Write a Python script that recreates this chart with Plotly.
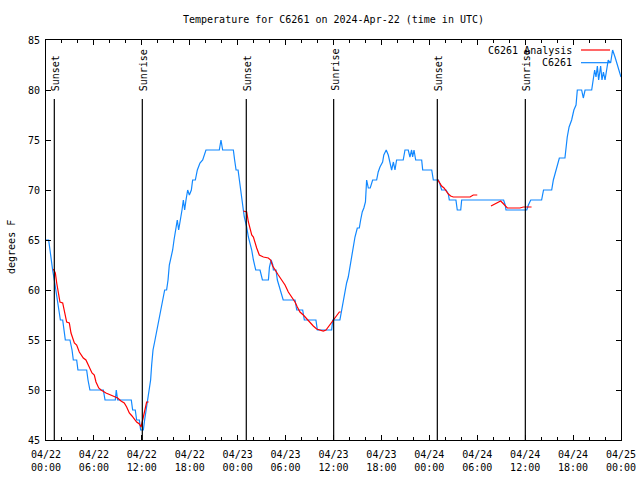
import pandas as pd
import plotly.graph_objects as go

# ---- data (hours since 2024-04-22 00:00 UTC, temperature in F) ----
start = pd.Timestamp("2024-04-22 00:00")

obs_hours = [0.0, 0.33, 0.5, 0.63, 0.83, 1.04, 1.25, 1.46, 1.67, 1.8, 2.09, 2.3, 2.42, 3.0, 3.26, 3.42,
             3.84, 4.0, 5.09, 5.26, 5.5, 7.18, 7.39, 8.68, 8.8, 8.97, 10.68, 10.85, 11.18, 11.35, 11.69,
             11.85, 12.19, 12.35, 12.52, 12.73, 12.94, 13.1, 13.23, 13.4, 13.65, 13.9, 14.19, 14.44,
             14.65, 14.86, 15.1, 15.28, 15.44, 15.6, 15.86, 16.03, 16.28, 16.44, 16.61, 16.86, 17.03,
             17.2, 17.36, 17.53, 17.74, 17.95, 18.2, 18.36, 18.7, 18.95, 19.28, 19.62, 20.03, 21.7,
             21.91, 22.12, 23.46, 23.62, 23.8, 24.05, 24.2, 24.33, 24.54, 24.71, 24.83, 24.95, 25.13,
             25.34, 25.55, 25.76, 25.97, 26.26, 26.8, 27.1, 27.85, 27.98, 28.19, 28.4, 28.47, 28.8,
             28.97, 29.22, 29.5, 29.7, 31.18, 31.4, 32.14, 32.35, 33.8, 33.98, 35.77, 35.9, 36.8,
             37.02, 37.23, 37.43, 37.64, 37.85, 38.06, 38.27, 38.48, 38.69, 38.98, 39.23, 39.4, 39.6,
             39.8, 40.0, 40.15, 40.36, 40.6, 40.9, 41.4, 41.6, 41.82, 42.15, 42.3, 42.6, 42.86, 43.07,
             43.28, 43.5, 43.7, 43.9, 44.73, 44.95, 45.36, 45.57, 45.78, 45.91, 46.08, 46.29, 47.04,
             47.17, 48.3, 48.5, 49.13, 49.33, 49.54, 50.09, 50.38, 50.5, 51.33, 51.5, 51.93, 52.05,
             57.3, 57.5, 57.6, 60.2, 60.4, 60.7, 62.06, 62.3, 63.32, 63.53, 63.86, 64.28, 64.98, 65.1,
             65.27, 65.5, 65.82, 66.1, 66.37, 66.53, 67.07, 67.28, 67.5, 68.33, 68.54, 68.7, 68.87,
             69.04, 69.2, 69.45, 69.62, 69.8, 70.0, 70.2, 70.4, 70.7, 70.95, 71.25, 71.46, 71.67,
             71.88, 72.0]
obs_temp = [65, 65, 64, 63, 62, 61, 60, 59, 58, 57, 57, 56, 55, 55, 54, 53,
            53, 52, 52, 51, 50, 50, 49, 49, 50, 49, 49, 48, 48, 47, 47,
            46, 46, 47, 48, 49, 50, 51, 52.5, 54, 55, 56, 57, 58,
            59, 60, 60, 61, 62.5, 63, 64, 65, 66, 67, 66, 67, 68,
            69, 68, 69, 70, 69.5, 70, 71, 71, 72, 72.7, 73, 74, 74,
            75, 74, 74, 73, 72, 72, 71, 70, 69, 68, 67.3, 67, 66.3,
            65.3, 64.7, 64, 63, 62, 62, 61, 61, 62.3, 63, 62.5, 62, 62,
            61, 60.3, 59.7, 59, 59, 58, 58, 57, 57, 56, 56, 57, 57,
            58, 59, 59.8, 60.7, 61.3, 62.3, 63.3, 64.3, 65.3, 66.2, 66.2, 67, 67.8,
            68.2, 68.8, 71, 70.2, 70.2, 71, 71, 71.8, 72.3, 72.8, 73.5, 74, 73.5, 72.7,
            72, 72.8, 72, 73, 73, 74, 74, 73.3, 74, 73.3, 74, 73, 73,
            72, 72, 71, 71, 70.6, 70, 70, 69.6, 69, 69, 68, 68, 69,
            69, 68.5, 68, 68, 68.5, 69, 69, 70, 70, 71, 72, 73.2, 73.2, 74.3,
            75.3, 76.3, 77, 78, 78.5, 80, 80, 79.2, 80, 80, 81, 82, 81.3,
            82.4, 81, 82.4, 81, 81.8, 81, 82.3, 83, 82.7, 84, 83.3, 82.7, 82.3,
            81.7, 81.3]

# analysis series (None separates the nightly segments)
ana_hours = [0.92, 1.17, 1.34, 1.59, 1.75, 2.09, 2.3, 2.59, 2.92, 3.13, 3.55, 3.84, 4.17, 4.67, 5.0,
             5.43, 5.76, 6.05, 6.26, 6.6, 6.89, 7.51, 8.14, 8.56, 8.97, 9.39, 9.8, 10.1, 10.43, 10.77,
             11.06, 11.35, 11.69, 11.9, 12.19, 12.4, 12.6, 12.85, None,
             24.71, 25.13, 25.34, 25.55, 25.76, 25.97, 26.17, 26.38, 26.71, 27.22, 27.84, 28.13, 28.38,
             28.67, 29.09, 29.51, 29.93, 30.34, 30.76, 31.18, 31.47, 31.8, 32.22, 32.64, 33.05, 33.47,
             33.89, 34.3, 34.72, 35.06, 35.35, 35.64, 35.98, 36.4, 36.73, 36.9, None,
             49.0, 49.25, 49.54, 49.84, 50.09, 50.38, 50.67, 51.0, 52.05, 53.1, 53.5, 54.0, None,
             55.72, 56.0, 56.35, 56.64, 56.93, 57.18, 57.47, 57.77, 59.35, 59.77, 60.8]
ana_temp = [62.1, 61.7, 60.7, 59.7, 58.8, 58.7, 58, 56.8, 56.7, 55.7, 54.7, 54.5, 53.8, 53.2, 53,
            52.3, 51.7, 51.5, 50.8, 50.2, 50, 49.7, 49.5, 49.3, 49.2, 48.9, 48.7, 48.3, 47.7, 47.4,
            47.1, 46.8, 46.6, 46.3, 47.3, 48, 48.8, 48.8, None,
            67.9, 67.8, 66.8, 66, 65.5, 65.3, 64.7, 64.2, 63.5, 63.3, 63.2, 63, 62.4,
            62, 61.5, 61, 60.5, 59.8, 59.3, 58.8, 58.3, 57.8, 57.5, 57.1, 56.7, 56.4,
            56.1, 56, 55.9, 56, 56.3, 56.6, 57, 57.4, 57.8, 57.8, None,
            71.1, 70.8, 70.4, 70.2, 69.9, 69.6, 69.4, 69.3, 69.3, 69.3, 69.5, 69.5, None,
            68.4, 68.5, 68.7, 68.8, 68.9, 68.7, 68.4, 68.2, 68.2, 68.3, 68.3]

sun_hours = [1.04, 12.06, 25.08, 36.02, 49.0, 60.02]
sun_labels = ["Sunset", "Sunrise", "Sunset", "Sunrise", "Sunset", "Sunrise"]

series_names = ["C6261 Analysis", "C6261"]
series_colors = ["#ff0000", "#1188ff"]

title_text = "Temperature for C6261 on 2024-Apr-22 (time in UTC)"
y_label = "degrees F"


def to_time(hours):
    return [None if h is None else start + pd.Timedelta(hours=h) for h in hours]


FONT = "DejaVu Sans Mono"
W, H = 640, 480
fig = go.Figure()

fig.add_trace(go.Scatter(x=to_time(obs_hours), y=obs_temp, mode="lines",
                         line=dict(color=series_colors[1], width=1.2),
                         name=series_names[1], showlegend=False))
fig.add_trace(go.Scatter(x=to_time(ana_hours), y=ana_temp, mode="lines",
                         line=dict(color=series_colors[0], width=1.2),
                         connectgaps=False, name=series_names[0], showlegend=False))

# sunrise / sunset markers
for t, lab in zip(to_time(sun_hours), sun_labels):
    fig.add_shape(type="line", xref="x", yref="y", x0=t, x1=t, y0=45, y1=79.1,
                  line=dict(color="black", width=1.2), layer="above")
    fig.add_annotation(x=t, y=79.7, xref="x", yref="y", text=lab, textangle=-90,
                       showarrow=False, xanchor="center", yanchor="bottom",
                       xshift=1, font=dict(family=FONT, size=10, color="black"))

# gnuplot-style legend (text right, sample line at right)
leg_y = [0.975, 0.9433]
for name, col, yy in zip(series_names, series_colors, leg_y):
    fig.add_annotation(x=0.9183, y=yy, xref="paper", yref="paper", text=name,
                       showarrow=False, xanchor="right", yanchor="middle",
                       font=dict(family=FONT, size=10, color="black"))
    fig.add_shape(type="line", xref="paper", yref="paper", x0=0.9304, x1=0.9809,
                  y0=yy, y1=yy, line=dict(color=col, width=1.2))

# y-axis label
fig.add_annotation(x=-0.0609, y=0.4825, xref="paper", yref="paper", text=y_label,
                   textangle=-90, showarrow=False, xanchor="center", yanchor="middle",
                   font=dict(family=FONT, size=10, color="black"))

fig.update_layout(
    width=W, height=H,
    margin=dict(l=46, r=19, t=40, b=40, pad=0, autoexpand=False),
    paper_bgcolor="white", plot_bgcolor="white",
    font=dict(family=FONT, size=10, color="black"),
    title=dict(text=title_text, x=0.5, xref="paper", y=1 - 19 / H, yref="container",
               xanchor="center", yanchor="middle", font=dict(family=FONT, size=10)),
    showlegend=False,
)
fig.update_xaxes(type="date", range=[start, start + pd.Timedelta(hours=72)],
                 tick0=start, dtick=6 * 3600 * 1000, tickformat="%m/%d<br>%H:%M",
                 ticks="inside", ticklen=5, tickcolor="black", ticklabelstandoff=5,
                 minor=dict(dtick=2 * 3600 * 1000, tick0=start, ticks="inside", ticklen=3,
                            tickcolor="black", showgrid=False),
                 showline=True, linecolor="black", linewidth=1, mirror="allticks",
                 showgrid=False, zeroline=False)
fig.update_yaxes(range=[45, 85], dtick=5, ticks="inside", ticklen=5, tickcolor="black",
                 ticklabelstandoff=3,
                 showline=True, linecolor="black", linewidth=1, mirror="allticks",
                 showgrid=False, zeroline=False)

# remove the browser's default 8px body margin so the figure sits at the page origin
fig.write_html("out.html", config={"displayModeBar": False, "staticPlot": True},
               post_script="document.body.style.margin='0';document.body.style.overflow='hidden';")
